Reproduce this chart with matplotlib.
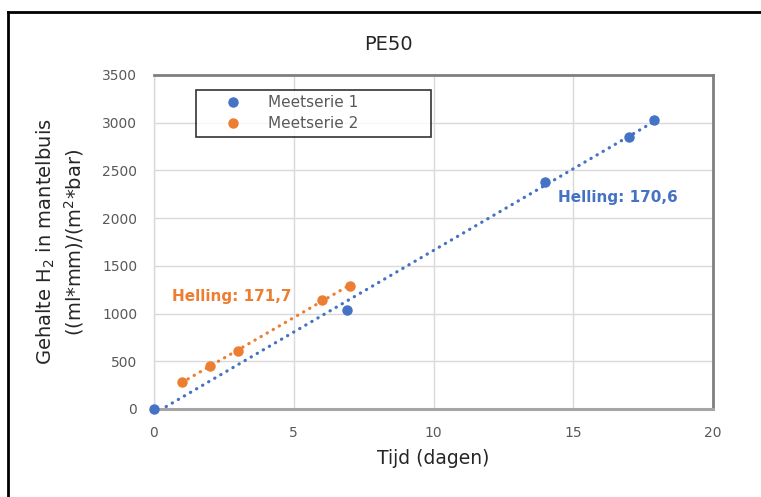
import numpy as np
import matplotlib.pyplot as plt
from matplotlib.lines import Line2D

plt.rcParams['font.family'] = ['DejaVu Sans']

t1 = [0, 6.9, 14, 17, 17.9]
h1 = [0, 1040, 2380, 2850, 3030]
t2 = [1, 2, 3, 6, 7]
h2 = [280, 450, 610, 1140, 1290]

series_names = ["Meetserie 1", "Meetserie 2"]
slope_labels = ["Helling: 170,6", "Helling: 171,7"]
xticks = [0, 5, 10, 15, 20]
yticks = [0, 500, 1000, 1500, 2000, 2500, 3000, 3500]

blue = "#4472C4"
orange = "#ED7D31"
tick_col = "#595959"
text_col = "#262626"

fig = plt.figure(figsize=(7.61, 4.97), dpi=100)
ax = fig.add_axes([154 / 761, 1 - 409 / 497, (713 - 154) / 761, (409 - 75) / 497])

# linear trendlines
for t, h, c in [(t1, h1, blue), (t2, h2, orange)]:
    k, b = np.polyfit(t, h, 1)
    xs = np.array([min(t), max(t)])
    ax.plot(xs, k * xs + b, color=c, linestyle=(0, (0.1, 2.1)), linewidth=2.3,
            dash_capstyle="round", zorder=2)

ax.plot(t1, h1, "o", color=blue, markersize=6.5, label=series_names[0], zorder=3, clip_on=False)
ax.plot(t2, h2, "o", color=orange, markersize=6.5, label=series_names[1], zorder=3, clip_on=False)

ax.set_xlim(0, 20)
ax.set_ylim(0, 3500)
ax.set_xticks(xticks)
ax.set_yticks(yticks)
ax.tick_params(length=0, labelsize=10, labelcolor=tick_col)
ax.tick_params(axis="x", pad=12)
ax.tick_params(axis="y", pad=12)
ax.grid(True, color="#d9d9d9", linewidth=1)
ax.set_axisbelow(True)

ax.spines["top"].set_color("#7f7f7f")
ax.spines["top"].set_linewidth(2)
ax.spines["right"].set_color("#7f7f7f")
ax.spines["right"].set_linewidth(2)
ax.spines["bottom"].set_color("#a6a6a6")
ax.spines["bottom"].set_linewidth(2.2)
ax.spines["left"].set_color("#d9d9d9")
ax.spines["left"].set_linewidth(1)

fig.text(388 / 761, 1 - 45 / 497, "PE50", fontsize=14, color=text_col, ha="center", va="center")
ax.set_xlabel("Tijd (dagen)", fontsize=13.5, color=text_col, labelpad=7)
ax.set_ylabel("Gehalte H$_2$ in mantelbuis\n((ml*mm)/(m$^2$*bar)", fontsize=14,
              color=text_col, labelpad=12, linespacing=1.25)

ax.text(14.45, 2220, slope_labels[0], color=blue, fontsize=11, fontweight="bold", va="center")
ax.text(0.64, 1184, slope_labels[1], color=orange, fontsize=11, fontweight="bold", va="center")

leg = ax.legend(loc="upper left", bbox_to_anchor=(0.0751, 0.811, 0.420, 0.144), mode="expand",
                frameon=True, fancybox=False, fontsize=11, labelcolor=tick_col,
                handlelength=4.15, handletextpad=0.2, borderpad=0.35, labelspacing=0.4,
                borderaxespad=0)
leg.get_frame().set_edgecolor("black")
leg.get_frame().set_linewidth(1.2)

# outer chart frame (open to the right and bottom)
fig.add_artist(Line2D([8 / 761, 8 / 761], [0, 1 - 12 / 497], color="black", linewidth=2,
                      transform=fig.transFigure))
fig.add_artist(Line2D([8 / 761, 1], [1 - 12 / 497, 1 - 12 / 497], color="black", linewidth=2,
                      transform=fig.transFigure))

fig.savefig("out.png", dpi=100)
